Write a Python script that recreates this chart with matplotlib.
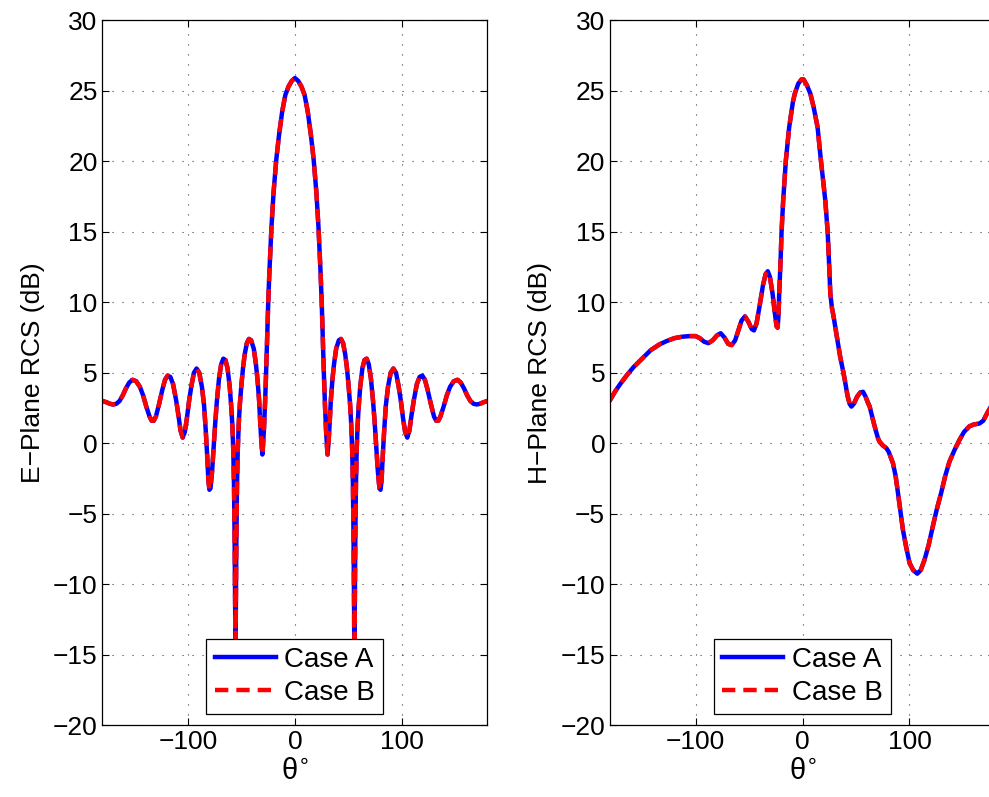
import matplotlib
matplotlib.use('Agg')
import matplotlib.pyplot as plt

plt.rcParams['font.family'] = ['Liberation Sans', 'DejaVu Sans']
plt.rcParams['font.size'] = 19
plt.rcParams['axes.unicode_minus'] = True

# E-plane RCS (dB)
e_theta = [-180, -176, -173, -170, -167, -164, -161, -158, -155, -152, -148.5, -145, -142, -139,
           -136, -134, -132, -130, -127, -124, -121.5, -119, -116.5, -114, -111, -109, -107, -105,
           -103, -101, -99, -97, -94.5, -92, -89.5, -87, -85, -83.5, -82, -81, -80, -79, -77.5,
           -76, -74.5, -73, -71, -69, -67, -65, -63, -61, -59.5, -58.5, -57.7, -57, -56.4, -55.9,
           -55.6, -55.3, -54.8, -54.2, -53.5, -52.5, -51.5, -50, -48.5, -47, -45, -43, -41, -38.5,
           -36.5, -35, -33.5, -32.5, -31.5, -30.5, -30, -29, -28, -27, -26, -25, -24, -22, -20,
           -17.5, -15, -12, -9, -6, -3, 0,
           3, 6, 9, 12, 15, 17.5, 20, 22, 24, 25, 26, 27, 28, 29, 30, 30.5, 31.5, 32.5, 33.5, 35,
           36.5, 38.5, 41, 43, 45, 47, 48.5, 50, 51.5, 52.5, 53.5, 54.2, 54.8, 55.3, 55.6, 55.9,
           56.4, 57, 57.7, 58.5, 59.5, 61, 63, 65, 67, 69, 71, 73, 74.5, 76, 77.5, 79, 80, 81, 82,
           83.5, 85, 87, 89.5, 92, 94.5, 97, 99, 101, 103, 105, 107, 109, 111, 114, 116.5, 119,
           121.5, 124, 127, 130, 132, 134, 136, 139, 142, 145, 148.5, 152, 155, 158, 161, 164,
           167, 170, 173, 176, 180]
e_rcs = [3.0, 2.9, 2.8, 2.75, 2.8, 3.0, 3.4, 3.9, 4.3, 4.5, 4.4, 4.0, 3.4, 2.6,
         1.9, 1.6, 1.6, 1.9, 2.8, 3.8, 4.5, 4.8, 4.7, 4.2, 3.0, 2.0, 0.9, 0.4,
         0.8, 1.8, 3.0, 4.0, 5.0, 5.3, 5.0, 4.0, 2.7, 1.0, -1.0, -2.6, -3.3, -3.2, -2.0,
         -0.2, 1.5, 3.0, 4.6, 5.6, 6.0, 5.9, 5.3, 4.0, 2.5, 1.2, -0.5, -3, -7, -12,
         -17, -12, -7, -3, -0.5, 1.5, 2.8, 4.2, 5.4, 6.3, 7.1, 7.4, 7.3, 6.7,
         5.6, 4.5, 3.0, 1.5, 0.2, -0.8, -0.3, 1.0, 2.8, 5.0, 7.5, 10.0, 12.0, 15.3, 17.8,
         20.1, 21.8, 23.5, 24.7, 25.3, 25.7, 25.9,
         25.7, 25.3, 24.7, 23.5, 21.8, 20.1, 17.8, 15.3, 12.0, 10.0, 7.5, 5.0, 2.8, 1.0, -0.3,
         -0.8, 0.2, 1.5, 3.0, 4.5,
         5.6, 6.7, 7.3, 7.4, 7.1, 6.3, 5.4, 4.2, 2.8, 1.5, -0.5, -3, -7, -12, -17, -12,
         -7, -3, -0.5, 1.2, 2.5, 4.0, 5.3, 5.9, 6.0, 5.6, 4.6, 3.0, 1.5, -0.2, -2.0, -3.2, -3.3,
         -2.6, -1.0,
         1.0, 2.7, 4.0, 5.0, 5.3, 5.0, 4.0, 3.0, 1.8, 0.8, 0.4, 0.9, 2.0, 3.0, 4.2, 4.7, 4.8,
         4.5, 3.8, 2.8, 1.9, 1.6, 1.6, 1.9, 2.6, 3.4, 4.0, 4.4, 4.5, 4.3, 3.9, 3.4, 3.0,
         2.8, 2.75, 2.8, 2.9, 3.0]

# H-plane RCS (dB)
h_theta = [-180, -175, -170, -164, -158, -150, -142, -134, -127, -120, -113, -106, -100, -96,
           -92, -88, -84, -80, -76.5, -73, -69.5, -66.3, -63, -60, -57, -53.8, -50.5, -47.5,
           -45.4, -43, -40, -37, -34.5, -32.5, -30.5, -28, -26, -24.3, -23.3, -22.5, -21.8,
           -20.5, -19.6, -18.1, -15.6, -12.5, -9, -7.2, -4, -1, 1, 4, 7.3, 10.5, 14.1, 17.2,
           19.3, 21.3, 23.5, 24.8, 26, 27.5, 29.1, 32, 35.3, 38, 39.5, 42, 44, 45.7, 48, 51, 54,
           56.6, 59, 61, 62.8, 65.9, 68.5, 70.6, 72.1, 75, 78.4, 80.5, 82.5, 84.5, 87, 89.2,
           91.5, 93.8, 97, 100.1, 103.5, 107.3, 110.5, 114.1, 118, 121.8, 125.5, 129.7, 133.5,
           137.4, 142, 146.7, 151, 156, 160, 165.4, 169, 173.1, 176.5, 180]
h_rcs = [3.06, 3.7, 4.25, 4.85, 5.4, 6.0, 6.6, 7.0, 7.25, 7.45, 7.55, 7.6, 7.6, 7.45,
         7.2, 7.1, 7.3, 7.65, 7.8, 7.5, 7.05, 6.96, 7.3, 8.0, 8.7, 9.0, 8.6, 8.1,
         8.0, 8.5, 9.8, 11.2, 12.0, 12.2, 11.8, 10.6, 9.3, 8.3, 8.2, 9.0, 10.6,
         13.0, 15.0, 17.2, 20.05, 22.4, 24.2, 24.8, 25.5, 25.8, 25.8, 25.4, 24.8, 23.8, 22.4,
         20.05, 18.6, 17.2, 15.0, 12.8, 10.6, 9.6, 8.96, 7.6, 6.1, 5.1, 4.5, 3.4, 2.8, 2.6,
         2.8, 3.3, 3.6, 3.65, 3.3, 2.9, 2.6, 1.65, 0.9, 0.35, 0.1, -0.15, -0.35, -0.6, -1.0,
         -1.4, -2.3, -3.5, -4.8, -6.1, -7.4, -8.5, -9.0, -9.25, -9.0, -8.26, -7.2, -5.9, -4.7,
         -3.5, -2.3, -1.3, -0.5, 0.23, 0.8, 1.2, 1.33, 1.4, 1.6, 2.2, 2.65, 3.06]

panels = [(e_theta, e_rcs, 'E\u2212Plane RCS (dB)', 0.1036),
          (h_theta, h_rcs, 'H\u2212Plane RCS (dB)', 0.6168)]

fig = plt.figure(figsize=(9.89, 7.97), dpi=100)

for theta, rcs, ylab, left in panels:
    ax = fig.add_axes([left, 0.0900, 0.3893, 0.8846])
    ax.plot(theta, rcs, color='#0000ff', lw=3.2, label='Case A')
    ax.plot(theta, rcs, color='#ff0000', lw=3.2, linestyle=(0, (3.0, 1.8)), label='Case B')
    ax.set_xlim(-180, 180)
    ax.set_ylim(-20, 30)
    ax.set_xticks([-100, 0, 100])
    ax.set_yticks(range(-20, 31, 5))
    ax.grid(True, color='0.25', linestyle=(0, (1, 8)), linewidth=0.8)
    ax.tick_params(direction='in', top=True, right=True, length=5, width=0.8, labelsize=19)
    for sp in ax.spines.values():
        sp.set_linewidth(0.9)
    ax.set_ylabel(ylab, fontsize=19, labelpad=6)
    ax.set_xlabel('\u03b8$^{\\circ}$', fontsize=21, labelpad=2)
    leg = ax.legend(loc='lower center', fontsize=20, frameon=True, fancybox=False,
                    framealpha=1, edgecolor='black', handlelength=2.2, handletextpad=0.3,
                    labelspacing=0.25, borderpad=0.3, borderaxespad=0.4)
    leg.get_frame().set_linewidth(0.9)

fig.savefig('out.png', dpi=100)
